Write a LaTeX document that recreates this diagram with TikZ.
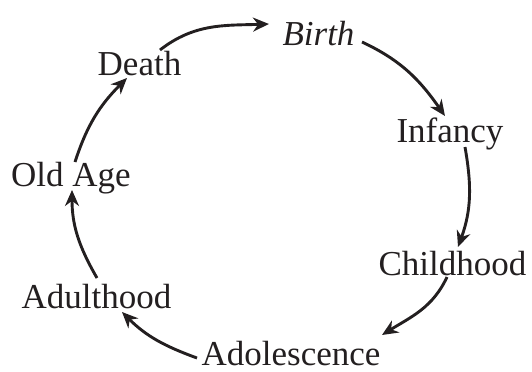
\documentclass[tikz,border=0pt]{standalone}
\usepackage{fontspec}
\setmainfont{Liberation Serif}
\usetikzlibrary{arrows.meta}
\definecolor{ink}{HTML}{231F20}
\begin{document}
\begin{tikzpicture}[x=0.5pt,y=0.5pt,
  lbl/.style={inner sep=0pt,anchor=base,text=ink,font=\fontsize{17.5}{20}\selectfont},
  arr/.style={draw=ink,line width=1.45pt,-{Stealth[length=8pt,width=7pt]}}]
\useasboundingbox (0,0) rectangle (532,371);
\node[lbl,font=\fontsize{17.5}{20}\selectfont\itshape] (birth) at (318.5,326) {Birth};
\node[lbl] (infancy) at (450,229) {Infancy};
\node[lbl] (childhood) at (452.5,96) {Childhood};
\node[lbl] (adolescence) at (291,6) {Adolescence};
\node[lbl] (adulthood) at (96.5,63) {Adulthood};
\node[lbl] (oldage) at (71,185) {Old Age};
\node[lbl] (death) at (139.5,296) {Death};
\draw[arr] ([shift={(20.5,25)}]death.base) to[out=38,in=182] ([shift={(-49.5,21)}]birth.base);
\draw[arr] ([shift={(43.5,3)}]birth.base) to[out=-25,in=125] ([shift={(-5,26)}]infancy.base);
\draw[arr] ([shift={(15,-5)}]infancy.base) to[out=-80,in=70] ([shift={(5.5,28)}]childhood.base);
\draw[arr] ([shift={(-5.5,-2)}]childhood.base) to[out=-115,in=32] ([shift={(91,30)}]adolescence.base);
\draw[arr] ([shift={(-94,7)}]adolescence.base) to[out=160,in=-45] ([shift={(25.5,-4)}]adulthood.base);
\draw[arr] ([shift={(0.5,30)}]adulthood.base) to[out=120,in=-90] ([shift={(1,-4)}]oldage.base);
\draw[arr] ([shift={(4,24)}]oldage.base) to[out=72,in=225] ([shift={(-12.5,-3)}]death.base);
\end{tikzpicture}
\end{document}
